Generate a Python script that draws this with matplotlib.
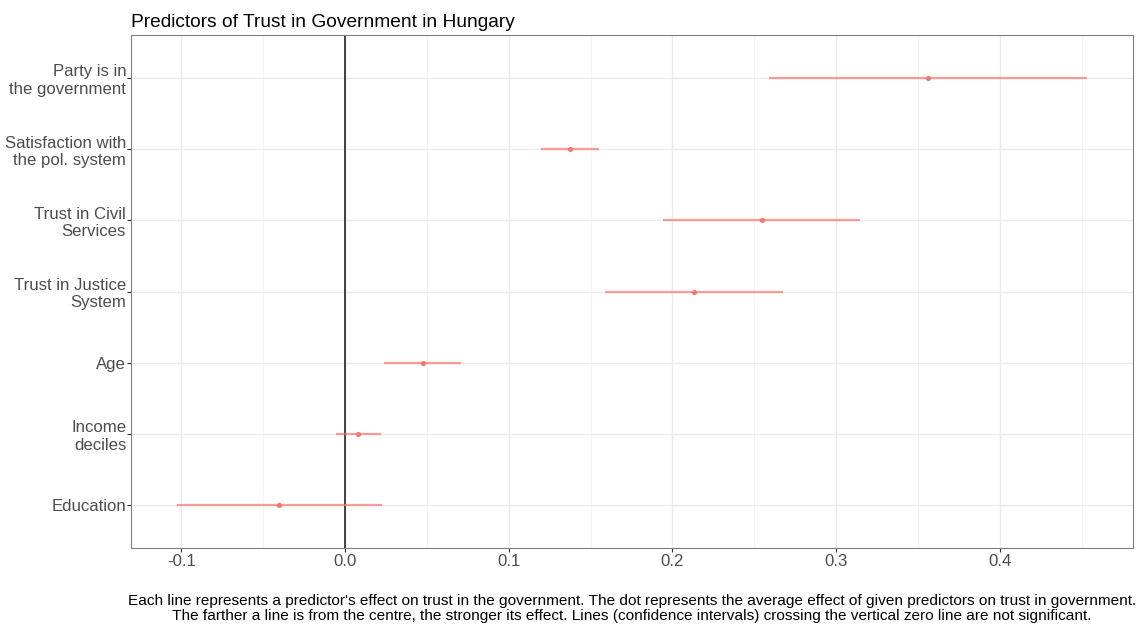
import matplotlib.pyplot as plt
from matplotlib.ticker import MultipleLocator

plt.rcParams['font.family'] = ['Liberation Sans', 'DejaVu Sans']

# coefficient estimates with their confidence intervals, top to bottom
predictors = ["Party is in\nthe government", "Satisfaction with\nthe pol. system",
              "Trust in Civil\nServices", "Trust in Justice\nSystem", "Age",
              "Income\ndeciles", "Education"]
estimate = [0.3563, 0.1372, 0.2546, 0.2132, 0.0473, 0.0081, -0.0404]
ci_low = [0.2593, 0.1196, 0.1943, 0.1590, 0.0235, -0.0053, -0.1030]
ci_high = [0.4536, 0.1550, 0.3146, 0.2675, 0.0710, 0.0222, 0.0224]

caption = ("Each line represents a predictor's effect on trust in the government. "
           "The dot represents the average effect of given predictors on trust in government.\n"
           "The farther a line is from the centre, the stronger its effect. "
           "Lines (confidence intervals) crossing the vertical zero line are not significant.")

fig = plt.figure(figsize=(11.45, 6.25), dpi=100)
ax = fig.add_axes([131 / 1145, 1 - 548 / 625, (1133 - 131) / 1145, (548 - 35) / 625])

n = len(predictors)
ypos = [n - i for i in range(n)]

ax.set_axisbelow(True)
ax.xaxis.set_major_locator(MultipleLocator(0.1))
ax.xaxis.set_minor_locator(MultipleLocator(0.05))
ax.grid(which='major', color='#EBEBEB', linewidth=1.0)
ax.grid(which='minor', axis='x', color='#F2F2F2', linewidth=0.6)

ax.axvline(0, color='#333333', linewidth=1.3, zorder=2)
ax.hlines(ypos, ci_low, ci_high, color='#F8766D', alpha=0.7, linewidth=1.6, zorder=3)
ax.scatter(estimate, ypos, color='#F8766D', s=14, zorder=4, linewidths=0)

span = max(ci_high) - min(ci_low)
ax.set_xlim(min(ci_low) - 0.05 * span, max(ci_high) + 0.05 * span)
ax.set_ylim(0.4, n + 0.6)
ax.set_yticks(ypos)
ax.set_yticklabels(predictors, ha='right', multialignment='right')
ax.set_xticks([-0.1, 0.0, 0.1, 0.2, 0.3, 0.4])
ax.set_xticklabels(['-0.1', '0.0', '0.1', '0.2', '0.3', '0.4'])

ax.tick_params(axis='both', which='major', colors='#333333', labelcolor='#4D4D4D',
               labelsize=12.1, length=3, width=0.8)
ax.tick_params(axis='x', which='minor', length=0)
ax.tick_params(axis='y', pad=0.5)
ax.tick_params(axis='x', pad=1.5)
for s in ax.spines.values():
    s.set_color('#7F7F7F')
    s.set_linewidth(0.8)

ax.set_title("Predictors of Trust in Government in Hungary", loc='left',
             fontsize=13.8, color='black', pad=6)
fig.text(632 / 1145, 1 - 623 / 625, caption, ha='center', va='bottom',
         fontsize=11.1, color='black', linespacing=1.1)

fig.savefig("out.png", dpi=100)
